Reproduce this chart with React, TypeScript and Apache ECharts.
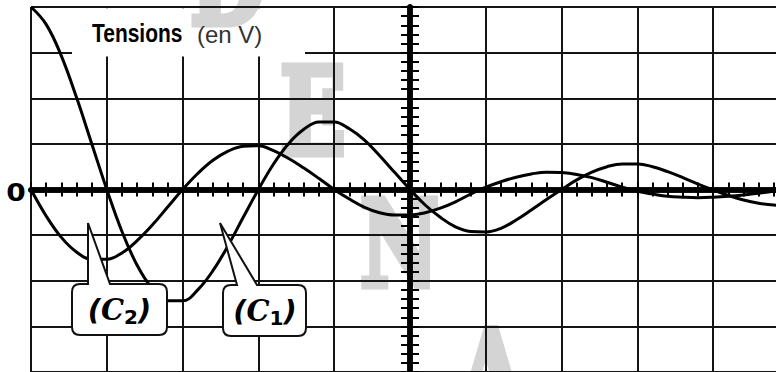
import React, { useEffect, useRef } from 'react';
import * as echarts from 'echarts';

// time axis, in horizontal divisions (vertical axis at 0)
const timeDiv = [
  -5, -4.8, -4.6, -4.4, -4.2, -4, -3.8, -3.6, -3.4, -3.2, -3, -2.8, -2.6, -2.4, -2.2, -2,
  -1.8, -1.6, -1.4, -1.2, -1, -0.8, -0.6, -0.4, -0.2, 0, 0.2, 0.4, 0.6, 0.8, 1, 1.2, 1.4,
  1.6, 1.8, 2, 2.2, 2.4, 2.6, 2.8, 3, 3.2, 3.4, 3.6, 3.8, 4, 4.2, 4.4, 4.6, 4.8, 5,
];

// (C1): starts at the top of the screen
const curveC1 = [
  4.0, 3.62, 2.93, 2.02, 1.01, 0.0, -0.92, -1.66, -2.17, -2.44, -2.44, -2.2, -1.78, -1.23,
  -0.61, 0.0, 0.56, 1.01, 1.32, 1.48, 1.48, 1.33, 1.08, 0.74, 0.37, 0.0, -0.34, -0.61, -0.82,
  -0.92, -0.93, -0.85, -0.67, -0.45, -0.22, 0.0, 0.21, 0.38, 0.5, 0.56, 0.56, 0.5, 0.39, 0.26,
  0.12, -0.01, -0.13, -0.23, -0.3, -0.34, -0.35,
];

// (C2): starts at zero
const curveC2 = [
  0.0, -0.58, -1.05, -1.37, -1.53, -1.53, -1.39, -1.12, -0.78, -0.39, 0.0, 0.35, 0.64, 0.84,
  0.95, 0.96, 0.85, 0.68, 0.47, 0.24, 0.0, -0.21, -0.39, -0.51, -0.56, -0.56, -0.51, -0.41,
  -0.27, -0.1, 0.05, 0.17, 0.27, 0.34, 0.38, 0.37, 0.33, 0.26, 0.16, 0.05, -0.04, -0.1, -0.15,
  -0.17, -0.18, -0.17, -0.15, -0.12, -0.08, -0.04, 0.0,
];

const zeroLabel = '0';
const titleMain = 'Tensions';
const titleUnit = '(en V)';
const curveNames = ['C1', 'C2'];
const watermarkLetters = ['D', 'E', 'N', 'A'];

const C2_PATH =
  'M80 284 L88 284 L88 223 L110 284 L159 284 Q167 284 167 292 L167 327 Q167 335 159 335 L80 335 Q72 335 72 327 L72 292 Q72 284 80 284 Z';
const C1_PATH =
  'M231 285 L237 285 L220 223 L257 285 L298 285 Q306 285 306 293 L306 328 Q306 336 298 336 L231 336 Q223 336 223 328 L223 293 Q223 285 231 285 Z';

let shapesRegistered = false;
function registerShapes() {
  if (shapesRegistered) return;
  echarts.graphic.registerShape('calloutC2', echarts.graphic.extendPath(C2_PATH, {}));
  echarts.graphic.registerShape('calloutC1', echarts.graphic.extendPath(C1_PATH, {}));
  shapesRegistered = true;
}

function makeXAxis(inside: boolean, grid: boolean) {
  return {
    type: 'value',
    min: -5,
    max: 5,
    interval: 1,
    position: 'bottom',
    axisLine: { show: true, onZero: true, onZeroAxisIndex: 0, lineStyle: { color: '#000', width: 5.5 } },
    axisTick: { show: true, inside, length: 7, lineStyle: { color: '#000', width: 2 } },
    minorTick: { show: true, splitNumber: 5, length: 7, lineStyle: { color: '#000', width: 2 } },
    axisLabel: { show: false },
    splitLine: { show: grid, lineStyle: { color: '#141414', width: 2 } },
  };
}

function makeYAxis(inside: boolean, grid: boolean) {
  return {
    type: 'value',
    min: -4,
    max: 4,
    interval: 1,
    position: 'left',
    axisLine: { show: true, onZero: true, onZeroAxisIndex: 0, lineStyle: { color: '#000', width: 5.5 } },
    axisTick: { show: true, inside, length: 9, lineStyle: { color: '#000', width: 2 } },
    minorTick: { show: true, splitNumber: 5, length: 9, lineStyle: { color: '#000', width: 2 } },
    axisLabel: { show: false },
    splitLine: { show: grid, lineStyle: { color: '#141414', width: 2 } },
  };
}

function calloutText(x: number, y: number, sub: string) {
  return {
    type: 'text',
    x,
    y,
    z: 12,
    style: {
      text: `{p|(}{c|C}{s|${sub}}{p|)}`,
      align: 'center',
      verticalAlign: 'middle',
      textAlign: 'center',
      textVerticalAlign: 'middle',
      rich: {
        p: { font: 'italic bold 29px "DejaVu Sans"', fill: '#000', lineHeight: 34 },
        c: { font: 'italic bold 29px "DejaVu Serif"', fill: '#000', lineHeight: 34 },
        s: { font: 'bold 20px "DejaVu Sans"', fill: '#000', lineHeight: 19, verticalAlign: 'bottom' },
      },
    },
  };
}

export default function App() {
  const ref = useRef<HTMLDivElement>(null);

  useEffect(() => {
    if (!ref.current) return;
    registerShapes();
    const chart = echarts.init(ref.current, undefined, { renderer: 'svg' });

    const wmPos = [
      { x: 190, y: -18, z: 9 },
      { x: 280, y: 112.2, z: -5 },
      { x: 360, y: 243.7, z: -5 },
      { x: 458, y: 374.4, z: -5 },
    ];
    const watermark = watermarkLetters.map((l, i) => ({
      type: 'text',
      x: wmPos[i].x,
      y: wmPos[i].y,
      scaleX: 0.72,
      z: wmPos[i].z,
      silent: true,
      style: {
        text: l,
        font: 'bold 120px "DejaVu Serif"',
        fill: '#d4d4d4',
        stroke: '#d4d4d4',
        lineWidth: 7,
        align: 'left',
        verticalAlign: 'middle',
        textAlign: 'left',
        textVerticalAlign: 'middle',
      },
    }));

    const option: any = {
      animation: false,
      backgroundColor: '#fff',
      grid: { left: 31, top: 7, width: 758, height: 366 },
      xAxis: [makeXAxis(false, true), makeXAxis(true, false)],
      yAxis: [makeYAxis(false, true), makeYAxis(true, false)],
      series: [
        {
          type: 'line',
          name: curveNames[0],
          xAxisIndex: 0,
          yAxisIndex: 0,
          data: timeDiv.map((t, i) => [t, curveC1[i]]),
          smooth: 0.4,
          symbol: 'none',
          showSymbol: false,
          lineStyle: { color: '#000', width: 3 },
          z: 3,
        },
        {
          type: 'line',
          name: curveNames[1],
          xAxisIndex: 0,
          yAxisIndex: 0,
          data: timeDiv.map((t, i) => [t, curveC2[i]]),
          smooth: 0.4,
          symbol: 'none',
          showSymbol: false,
          lineStyle: { color: '#000', width: 3 },
          z: 3,
        },
      ],
      graphic: {
        elements: [
          ...watermark,
          {
            type: 'rect',
            z: 8,
            silent: true,
            shape: { x: 72, y: 8.3, width: 233, height: 48.2 },
            style: { fill: '#fff' },
          },
          {
            // top frame edge drawn again above the watermark letter
            type: 'line',
            z: 9.5,
            silent: true,
            shape: { x1: 150, y1: 7, x2: 300, y2: 7 },
            style: { stroke: '#141414', lineWidth: 2 },
          },
          {
            type: 'text',
            x: 92,
            y: 33.5,
            scaleX: 0.806,
            z: 10,
            style: {
              text: titleMain,
              font: 'bold 26px "Liberation Sans", Arial, sans-serif',
              fill: '#000',
              align: 'left',
              verticalAlign: 'middle',
              textAlign: 'left',
              textVerticalAlign: 'middle',
            },
          },
          {
            type: 'text',
            x: 197,
            y: 34,
            z: 10,
            style: {
              text: titleUnit,
              font: '24px "Liberation Sans", Arial, sans-serif',
              fill: '#333',
              align: 'left',
              verticalAlign: 'middle',
              textAlign: 'left',
              textVerticalAlign: 'middle',
            },
          },
          {
            type: 'text',
            x: 16,
            y: 192,
            scaleX: 1.12,
            z: 10,
            style: {
              text: zeroLabel,
              font: 'bold 25px "DejaVu Sans"',
              fill: '#000',
              align: 'center',
              verticalAlign: 'middle',
              textAlign: 'center',
              textVerticalAlign: 'middle',
            },
          },
          {
            type: 'calloutC2',
            z: 11,
            style: { fill: '#fff', stroke: '#111', lineWidth: 2 },
          },
          {
            type: 'calloutC1',
            z: 11,
            style: { fill: '#fff', stroke: '#111', lineWidth: 2 },
          },
          calloutText(119.5, 310, '2'),
          calloutText(265, 311, '1'),
        ],
      },
    };

    chart.setOption(option);
    return () => chart.dispose();
  }, []);

  return (
    <div
      style={{
        position: 'absolute',
        left: 0,
        top: 0,
        width: 776,
        height: 372,
        overflow: 'hidden',
        background: '#fff',
      }}
    >
      <div ref={ref} style={{ width: 800, height: 372 }} />
    </div>
  );
}
